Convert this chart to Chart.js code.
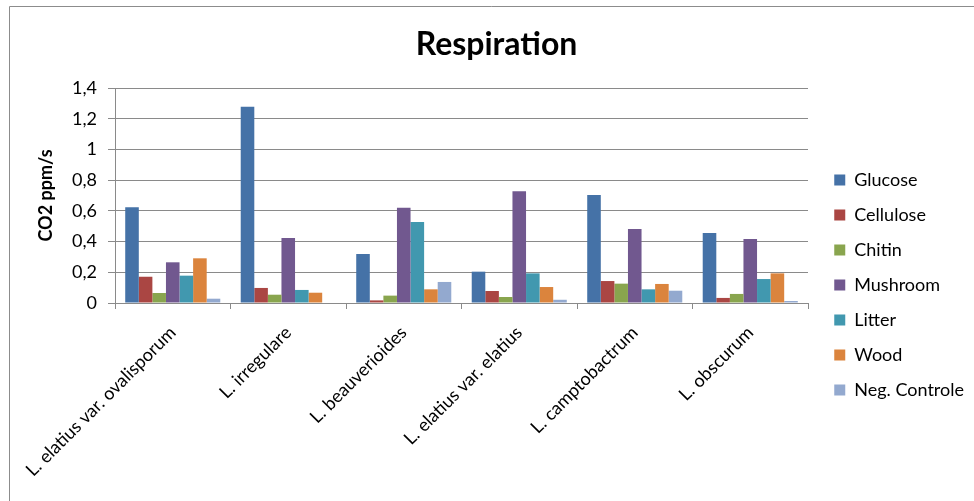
<!DOCTYPE html>
<html>
<head>
<meta charset="utf-8">
<title>Respiration</title>
<script src="https://cdn.jsdelivr.net/npm/chart.js@4.4.0/dist/chart.umd.min.js"></script>
<style>
  html, body { margin: 0; padding: 0; background: #fff; }
  #wrap { position: relative; width: 974px; height: 501px; }
</style>
</head>
<body>
<div id="wrap"><canvas id="respChart"></canvas></div>
<script>
const strains = ['L. elatius var. ovalisporum', 'L. irregulare', 'L. beauverioides',
    'L. elatius var. elatius', 'L. camptobactrum', 'L. obscurum'];
const glucose = [0.623, 1.278, 0.319, 0.204, 0.703, 0.456];
const cellulose = [0.171, 0.098, 0.017, 0.078, 0.143, 0.033];
const chitin = [0.065, 0.054, 0.048, 0.039, 0.126, 0.059];
const mushroom = [0.265, 0.423, 0.620, 0.727, 0.482, 0.417];
const litter = [0.178, 0.085, 0.527, 0.193, 0.089, 0.156];
const wood = [0.291, 0.067, 0.089, 0.104, 0.124, 0.193];
const negControle = [0.028, 0, 0.137, 0.021, 0.080, 0.013];
const yTickLabels = ['0', '0,2', '0,4', '0,6', '0,8', '1', '1,2', '1,4'];

const FONT = 'Lato';
const gridGray = '#8a8a8a';

// legend sizing so the boxes land where Excel put them
const legendSize = 18;
const legendPad = 35 - legendSize;
const mctx = document.createElement('canvas').getContext('2d');
mctx.font = legendSize + 'px ' + FONT;
const names = ['Glucose', 'Cellulose', 'Chitin', 'Mushroom', 'Litter', 'Wood', 'Neg. Controle'];
const maxText = Math.max(...names.map(n => mctx.measureText(n).width));
const legendW = legendPad + 11 + legendSize / 2 + maxText + 10;
const padRight = Math.max(0, 974 - (838 - legendPad) - legendW);
const gapW = 974 - padRight - legendW - 808;
const padLeft = 19 + padRight;

const frame = {
    id: 'frame',
    beforeDraw(chart) {
        const ctx = chart.ctx;
        ctx.save();
        ctx.fillStyle = '#fff';
        ctx.fillRect(0, 0, chart.width, chart.height);
        ctx.strokeStyle = '#8c8c8c';
        ctx.lineWidth = 1;
        ctx.beginPath();
        ctx.moveTo(9.5, chart.height);
        ctx.lineTo(9.5, 6.5);
        ctx.lineTo(chart.width, 6.5);
        ctx.stroke();
        ctx.restore();
    }
};

const respChart = new Chart(document.getElementById('respChart'), {
    type: 'bar',
    data: {
        labels: strains,
        datasets: [
            { label: 'Glucose', data: glucose, backgroundColor: '#4572A7' },
            { label: 'Cellulose', data: cellulose, backgroundColor: '#AA4643' },
            { label: 'Chitin', data: chitin, backgroundColor: '#89A54E' },
            { label: 'Mushroom', data: mushroom, backgroundColor: '#71588F' },
            { label: 'Litter', data: litter, backgroundColor: '#4198AF' },
            { label: 'Wood', data: wood, backgroundColor: '#DB843D' },
            { label: 'Neg. Controle', data: negControle, backgroundColor: '#93A9CF' }
        ]
    },
    options: {
        responsive: true,
        maintainAspectRatio: false,
        animation: false,
        datasets: { bar: { categoryPercentage: 0.823, barPercentage: 1.0, borderWidth: 0 } },
        layout: { padding: { left: padLeft, right: padRight, top: 0, bottom: 0 } },
        plugins: {
            title: {
                display: true,
                text: 'Respiration',
                color: '#000',
                font: { family: FONT, size: 32, weight: 'bold' },
                padding: { top: 25.8, bottom: 23.8 }
            },
            legend: {
                position: 'right',
                align: 'start',
                // empty title only pushes the entries down to where they sit in the original
                title: { display: true, text: '', font: { size: 10, lineHeight: 1 }, padding: { top: 171 - legendPad - 10, bottom: 0 } },
                labels: {
                    boxWidth: 11,
                    boxHeight: 11,
                    padding: legendPad,
                    color: '#000',
                    font: { family: FONT, size: legendSize }
                }
            },
            tooltip: { enabled: false }
        },
        scales: {
            x: {
                grid: { offset: true, drawOnChartArea: false, drawTicks: true, tickLength: 6, color: gridGray },
                border: { color: gridGray },
                ticks: {
                    autoSkip: false, minRotation: 45, maxRotation: 45, padding: 13,
                    color: '#000', font: { family: FONT, size: 18 }
                },
                afterFit: s => { s.height = 198; }
            },
            y: {
                min: 0, max: 1.4,
                grid: { color: gridGray, tickLength: 7 },
                border: { color: gridGray },
                ticks: {
                    stepSize: 0.2, padding: 11, color: '#000', font: { family: FONT, size: 18 },
                    callback: (v, i) => yTickLabels[i]
                },
                title: {
                    display: true, text: 'CO2 ppm/s', color: '#000',
                    font: { family: FONT, size: 18, weight: 'bold' },
                    padding: { top: 46 - padLeft - 10.8, bottom: 0 }
                },
                afterFit: s => { s.width = 115 - padLeft; }
            },
            gap: {
                type: 'linear', position: 'right', display: true,
                grid: { display: false }, border: { display: false }, ticks: { display: false },
                afterFit: s => { s.width = gapW; }
            }
        }
    },
    plugins: [frame]
});
</script>
</body>
</html>
